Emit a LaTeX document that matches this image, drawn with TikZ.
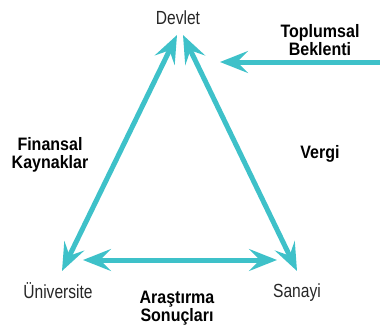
\documentclass[tikz,border=0pt]{standalone}
\usepackage{fontspec}
\setmainfont{Liberation Sans}[FakeStretch=0.82]
\newfontfamily\lblfont{Liberation Sans Bold}[FakeStretch=0.89]
\usepackage{xcolor}
\usetikzlibrary{arrows.meta}
\definecolor{teal}{RGB}{62,193,201}

\begin{document}
\begin{tikzpicture}[x=1pt, y=1pt,
  place/.style={inner sep=0pt, anchor=base, text=black!85, font=\fontsize{19}{22}\selectfont},
  lbl/.style={inner sep=0pt, anchor=base, align=center, font=\lblfont\fontsize{18}{18}\selectfont},
  arr/.style={draw=teal, line width=5pt, -{Stealth[length=28pt, width=22pt, inset=11pt]}},
  darr/.style={arr, {Stealth[length=28pt, width=22pt, inset=11pt]}-{Stealth[length=28pt, width=22pt, inset=11pt]}}]
\useasboundingbox (0,0) rectangle (380,325);
% Places
\node[place] (dev) at (178,301) {Devlet};
\node[place] (uni) at (58,27) {Üniversite};
\node[place] (san) at (297,28) {Sanayi};
% Labels
\node[lbl] (top) at (320,270) {Toplumsal\\Beklenti};
\node[lbl] (fin) at (50,157) {Finansal\\Kaynaklar};
\node[lbl] (ver) at (320,167) {Vergi};
\node[lbl] (ara) at (177,4) {Araştırma\\Sonuçları};
% Arrow ends
\coordinate (devL) at (177,290);
\coordinate (devR) at (183,290);
\coordinate (devIn) at (220,263);
\coordinate (edge) at (380,263);
\coordinate (uniT) at (62,54);
\coordinate (uniR) at (83,65);
\coordinate (sanT) at (297,54);
\coordinate (sanL) at (277,65);
% Arrows
\draw[arr] (edge) -- (devIn);
\draw[darr] (devL) -- (uniT);
\draw[darr] (devR) -- (sanT);
\draw[darr] (uniR) -- (sanL);
\end{tikzpicture}
\end{document}
